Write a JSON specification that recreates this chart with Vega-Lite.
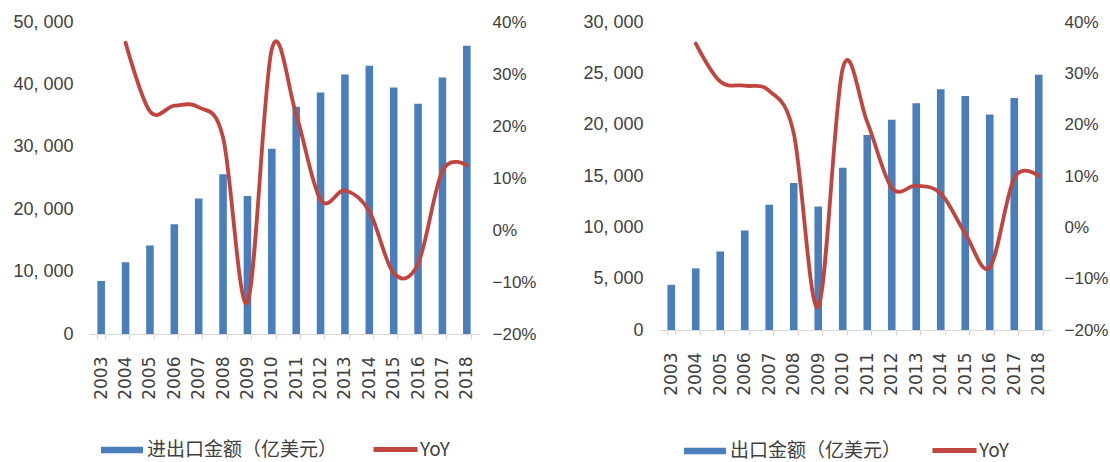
{
  "$schema": "https://vega.github.io/schema/vega-lite/v6.json",
  "background": "white",
  "padding": {"left": 12, "top": 13, "right": 0, "bottom": 0},
  "datasets": {
    "total": [
      {"year": "2003", "amount": 8500, "yoy": null},
      {"year": "2004", "amount": 11500, "yoy": 0.36},
      {"year": "2005", "amount": 14200, "yoy": 0.228},
      {"year": "2006", "amount": 17600, "yoy": 0.239},
      {"year": "2007", "amount": 21700, "yoy": 0.236},
      {"year": "2008", "amount": 25600, "yoy": 0.178},
      {"year": "2009", "amount": 22100, "yoy": -0.139},
      {"year": "2010", "amount": 29700, "yoy": 0.348},
      {"year": "2011", "amount": 36400, "yoy": 0.222},
      {"year": "2012", "amount": 38700, "yoy": 0.058},
      {"year": "2013", "amount": 41600, "yoy": 0.076},
      {"year": "2014", "amount": 43000, "yoy": 0.036},
      {"year": "2015", "amount": 39500, "yoy": -0.083},
      {"year": "2016", "amount": 36900, "yoy": -0.065},
      {"year": "2017", "amount": 41100, "yoy": 0.114},
      {"year": "2018", "amount": 46200, "yoy": 0.124}
    ],
    "export": [
      {"year": "2003", "amount": 4400, "yoy": null},
      {"year": "2004", "amount": 6000, "yoy": 0.358},
      {"year": "2005", "amount": 7650, "yoy": 0.284},
      {"year": "2006", "amount": 9700, "yoy": 0.276},
      {"year": "2007", "amount": 12200, "yoy": 0.266},
      {"year": "2008", "amount": 14330, "yoy": 0.183},
      {"year": "2009", "amount": 12030, "yoy": -0.155},
      {"year": "2010", "amount": 15800, "yoy": 0.31},
      {"year": "2011", "amount": 19000, "yoy": 0.205},
      {"year": "2012", "amount": 20480, "yoy": 0.077},
      {"year": "2013", "amount": 22080, "yoy": 0.081},
      {"year": "2014", "amount": 23450, "yoy": 0.066},
      {"year": "2015", "amount": 22800, "yoy": -0.012},
      {"year": "2016", "amount": 21000, "yoy": -0.078},
      {"year": "2017", "amount": 22600, "yoy": 0.096},
      {"year": "2018", "amount": 24850, "yoy": 0.100}
    ]
  },
  "config": {
    "view": {"stroke": null},
    "axis": {"grid": false, "labelColor": "#404040"},
    "legend": {
      "title": null,
      "orient": "none",
      "padding": 0,
      "labelFont": "Noto Sans CJK SC",
      "labelFontSize": 19,
      "labelColor": "#404040",
      "labelLimit": 400
    }
  },
  "spacing": 46,
  "resolve": {
    "scale": {"color": "independent", "stroke": "independent"},
    "legend": {"color": "independent", "stroke": "independent"}
  },
  "hconcat": [
    {
      "width": 390,
      "height": 312,
      "data": {"name": "total"},
      "layer": [
        {
          "mark": {"type": "bar"},
          "encoding": {
            "x": {
              "field": "year", "type": "ordinal",
              "scale": {"paddingInner": 0.69, "paddingOuter": 0.345},
              "axis": {"title": null, "labelAngle": -90, "labelFont": "DejaVu Sans", "labelFontSize": 17, "domainColor": "#d9d9d9", "tickColor": "#e6cccc", "tickSize": 5, "tickBand": "extent", "labelPadding": 17}
            },
            "y": {
              "field": "amount", "type": "quantitative",
              "scale": {"domain": [0, 50000]},
              "axis": {"title": null, "domain": false, "ticks": false, "values": [0, 10000, 20000, 30000, 40000, 50000], "labelExpr": "replace(format(datum.value, ','), ',', ', ')", "labelFont": "Liberation Sans", "labelFontSize": 18, "labelPadding": 16}
            },
            "color": {
              "datum": "进出口金额（亿美元）",
              "scale": {"range": ["#4a7ebb"]},
              "legend": {"legendX": 12, "legendY": 407, "symbolType": "M-1,-0.16L1,-0.16L1,0.16L-1,0.16Z", "symbolSize": 1764, "symbolStrokeWidth": 0}
            }
          }
        },
        {
          "mark": {"type": "line", "interpolate": "cardinal", "strokeWidth": 3.8, "strokeCap": "round"},
          "encoding": {
            "x": {"field": "year", "type": "ordinal"},
            "y": {
              "field": "yoy", "type": "quantitative",
              "scale": {"domain": [-0.2, 0.4]},
              "axis": {"title": null, "orient": "right", "domain": false, "ticks": false, "values": [-0.2, -0.1, 0, 0.1, 0.2, 0.3, 0.4], "format": ".0%", "labelFont": "Liberation Sans", "labelFontSize": 17, "labelPadding": 13}
            },
            "stroke": {
              "datum": "YoY",
              "scale": {"range": ["#c0453f"]},
              "legend": {"legendX": 282, "legendY": 403, "symbolType": "stroke", "symbolSize": 1936, "symbolStrokeWidth": 5, "labelOffset": 0}
            }
          }
        }
      ],
      "resolve": {"scale": {"y": "independent"}}
    },
    {
      "width": 392,
      "height": 308,
      "data": {"name": "export"},
      "layer": [
        {
          "mark": {"type": "bar"},
          "encoding": {
            "x": {
              "field": "year", "type": "ordinal",
              "scale": {"paddingInner": 0.69, "paddingOuter": 0.345},
              "axis": {"title": null, "labelAngle": -90, "labelFont": "DejaVu Sans", "labelFontSize": 17, "domainColor": "#d9d9d9", "tickColor": "#e6cccc", "tickSize": 5, "tickBand": "extent", "labelPadding": 17}
            },
            "y": {
              "field": "amount", "type": "quantitative",
              "scale": {"domain": [0, 30000]},
              "axis": {"title": null, "domain": false, "ticks": false, "values": [0, 5000, 10000, 15000, 20000, 25000, 30000], "labelExpr": "replace(format(datum.value, ','), ',', ', ')", "labelFont": "Liberation Sans", "labelFontSize": 18, "labelPadding": 16}
            },
            "color": {
              "datum": "出口金额（亿美元）",
              "scale": {"range": ["#4a7ebb"]},
              "legend": {"legendX": 25, "legendY": 408, "symbolType": "M-1,-0.16L1,-0.16L1,0.16L-1,0.16Z", "symbolSize": 1764, "symbolStrokeWidth": 0}
            }
          }
        },
        {
          "mark": {"type": "line", "interpolate": "cardinal", "strokeWidth": 3.8, "strokeCap": "round"},
          "encoding": {
            "x": {"field": "year", "type": "ordinal"},
            "y": {
              "field": "yoy", "type": "quantitative",
              "scale": {"domain": [-0.2, 0.4]},
              "axis": {"title": null, "orient": "right", "domain": false, "ticks": false, "values": [-0.2, -0.1, 0, 0.1, 0.2, 0.3, 0.4], "format": ".0%", "labelFont": "Liberation Sans", "labelFontSize": 17, "labelPadding": 13}
            },
            "stroke": {
              "datum": "YoY",
              "scale": {"range": ["#c0453f"]},
              "legend": {"legendX": 271, "legendY": 404, "symbolType": "stroke", "symbolSize": 1936, "symbolStrokeWidth": 5, "labelOffset": 0}
            }
          }
        }
      ],
      "resolve": {"scale": {"y": "independent"}}
    }
  ]
}
